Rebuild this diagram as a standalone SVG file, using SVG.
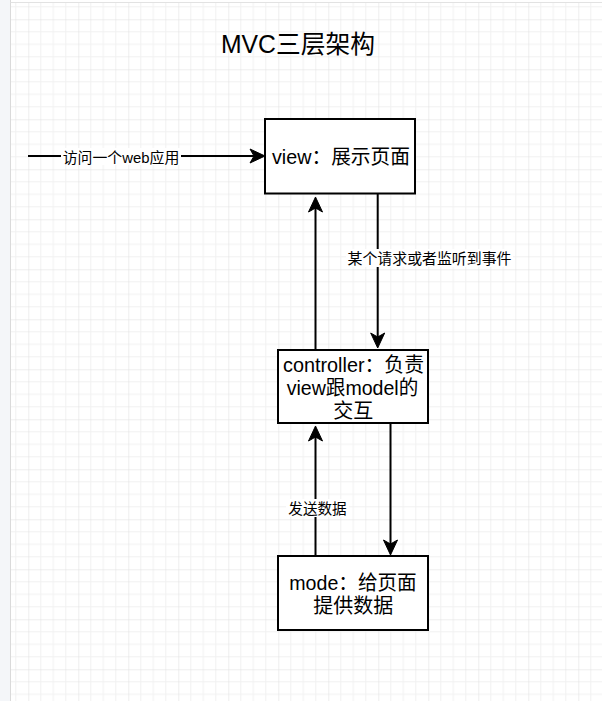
<svg xmlns="http://www.w3.org/2000/svg" width="602" height="701" viewBox="0 0 602 701">
<style>
.box{fill:#fff;stroke:#000;stroke-width:2}
.t{font-family:"Liberation Sans","Noto Sans CJK SC",sans-serif;fill:#000;text-anchor:middle}
.big{font-size:20px}
.lbl{font-size:15px}
.edge{fill:none;stroke:#000;stroke-width:2}
.lb{fill:#fff}
</style>
<defs>
<pattern id="grid" patternUnits="userSpaceOnUse" x="28.3" y="19.3" width="50" height="50">
<path d="M12.5 0V50M25 0V50M37.5 0V50M0 12.5H50M0 25H50M0 37.5H50" stroke="#f1f1f1" stroke-width="1" fill="none"/>
<path d="M0 0V50M0 0H50" stroke="#dddddd" stroke-width="1" fill="none"/>
</pattern>
<marker id="arr" viewBox="-16 -8 17 16" markerWidth="17" markerHeight="16" refX="-10" refY="0" orient="auto" markerUnits="userSpaceOnUse">
<path d="M0,0 L-15,-7 L-11,0 L-15,7 Z" fill="#000" stroke="#000" stroke-width="1"/>
</marker>
</defs>
<rect x="0" y="0" width="602" height="701" fill="#fff"/>
<rect x="11" y="2" width="591" height="699" fill="url(#grid)"/>
<rect x="0" y="0" width="10.5" height="701" fill="#f4f6f9"/>
<line x1="10.5" y1="0" x2="10.5" y2="701" stroke="#dadada"/>
<line x1="10.5" y1="2.5" x2="602" y2="2.5" stroke="#e2e2e2"/>

<g id="title">
<text class="t" x="298" y="53" font-size="25" textLength="154" lengthAdjust="spacingAndGlyphs">MVC三层架构</text>
</g>

<g id="connectors">
<line class="edge" x1="28" y1="156" x2="255" y2="156" marker-end="url(#arr)"/>
<line class="edge" x1="377.7" y1="194" x2="377.7" y2="338" marker-end="url(#arr)"/>
<line class="edge" x1="315.5" y1="350" x2="315.5" y2="207" marker-end="url(#arr)"/>
<line class="edge" x1="390.5" y1="423" x2="390.5" y2="545" marker-end="url(#arr)"/>
<line class="edge" x1="315.5" y1="556" x2="315.5" y2="436" marker-end="url(#arr)"/>
<g id="label-visit">
<rect class="lb" x="61" y="148" width="120" height="17"/>
<text class="t lbl" x="121" y="162.5" textLength="116.6" lengthAdjust="spacingAndGlyphs">访问一个web应用</text>
</g>
<g id="label-request">
<rect class="lb" x="346" y="249" width="167" height="18"/>
<text class="t lbl" x="429.5" y="263.5" textLength="164" lengthAdjust="spacingAndGlyphs">某个请求或者监听到事件</text>
</g>
<g id="label-send">
<rect class="lb" x="286" y="499" width="63" height="18"/>
<text class="t lbl" x="317.5" y="513.5" textLength="58.4" lengthAdjust="spacingAndGlyphs">发送数据</text>
</g>
</g>

<g id="view">
<rect class="box" x="265" y="119" width="150" height="74.5"/>
<text class="t big" x="341" y="164" textLength="138" lengthAdjust="spacingAndGlyphs">view：展示页面</text>
</g>

<g id="controller">
<rect class="box" x="278" y="350" width="150" height="73"/>
<text class="t big" x="353.5" y="371.5" textLength="141" lengthAdjust="spacingAndGlyphs">controller：负责</text>
<text class="t big" x="352.5" y="395" textLength="131.6" lengthAdjust="spacingAndGlyphs">view跟model的</text>
<text class="t big" x="353.3" y="418">交互</text>
</g>

<g id="mode">
<rect class="box" x="278" y="556" width="150" height="74"/>
<text class="t big" x="353" y="590" textLength="127.4" lengthAdjust="spacingAndGlyphs">mode：给页面</text>
<text class="t big" x="353.3" y="613">提供数据</text>
</g>
</svg>
